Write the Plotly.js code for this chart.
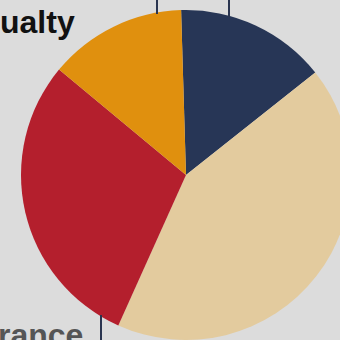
<!DOCTYPE html>
<html>
<head>
<meta charset="utf-8">
<script src="https://cdn.plot.ly/plotly-3.0.1.min.js"></script>
<style>
html, body { margin: 0; padding: 0; overflow: hidden; background: #dcdcdc; }
#chart { width: 351px; height: 340px; }
</style>
</head>
<body>
<div id="chart"></div>
<script>
var labels = ["Navy", "Beige", "Red", "Orange"];
var values = [14.8, 42.4, 29.3, 13.5];
var colors = ["#273656", "#e3cb9e", "#b41f2d", "#e0900e"];
var titleTop = "ualty";
var titleBottom = "rance";

var data = [{
  type: "pie",
  labels: labels,
  values: values,
  sort: false,
  direction: "clockwise",
  rotation: -1.7,
  textinfo: "none",
  hoverinfo: "label+percent",
  marker: { colors: colors, line: { width: 0 } },
  domain: { x: [0, 1], y: [0, 1] }
}];

function px(x) { return (x - 21) / 330; }
function py(y) { return (340 - y) / 330; }
var lineStyle = { color: "#2a3550", width: 2 };

var layout = {
  width: 351,
  height: 340,
  margin: { l: 21, r: 0, t: 10, b: 0, pad: 0 },
  paper_bgcolor: "#dcdcdc",
  plot_bgcolor: "#dcdcdc",
  showlegend: false,
  shapes: [
    { type: "line", xref: "paper", yref: "paper", x0: px(157), x1: px(157), y0: py(-2), y1: py(14), line: lineStyle },
    { type: "line", xref: "paper", yref: "paper", x0: px(229), x1: px(229), y0: py(-2), y1: py(17), line: lineStyle },
    { type: "line", xref: "paper", yref: "paper", x0: px(101), x1: px(101), y0: py(315), y1: py(342), line: lineStyle }
  ],
  annotations: [
    { text: titleTop, xref: "paper", yref: "paper", x: px(-2), y: py(22), xanchor: "left", yanchor: "middle",
      showarrow: false, font: { family: "Liberation Sans, Arial, sans-serif", size: 32, color: "#111111", weight: "bold" } },
    { text: titleBottom, xref: "paper", yref: "paper", x: px(-4), y: py(335), xanchor: "left", yanchor: "middle",
      showarrow: false, font: { family: "Liberation Sans, Arial, sans-serif", size: 32, color: "#555555", weight: "bold" } }
  ]
};

Plotly.newPlot("chart", data, layout, { staticPlot: true, displayModeBar: false });
</script>
</body>
</html>
